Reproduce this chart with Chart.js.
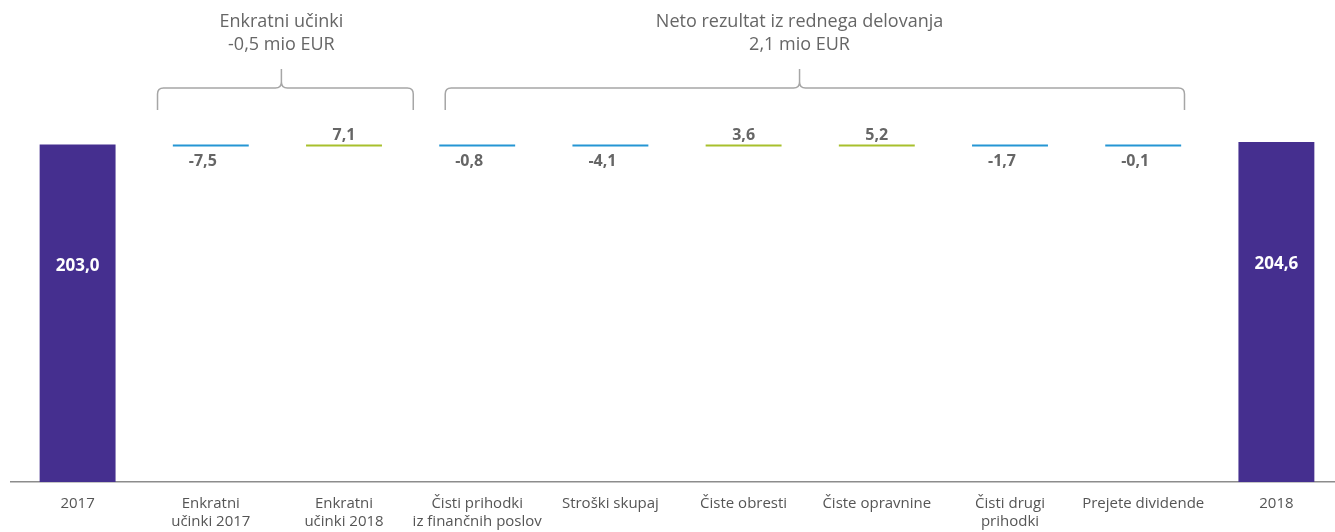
<!DOCTYPE html>
<html>
<head>
<meta charset="utf-8">
<script src="https://cdn.jsdelivr.net/npm/chart.js@4/dist/chart.umd.min.js"></script>
<style>
  html, body { margin: 0; padding: 0; background: #fff; overflow: hidden; }
  #wrap { position: absolute; left: 0; top: 0; width: 1343px; height: 532px; }
</style>
</head>
<body>
<div id="wrap"><canvas id="bridgeChart"></canvas></div>
<script>
// podatki
const categories = [
  '2017',
  ['Enkratni', 'učinki 2017'],
  ['Enkratni', 'učinki 2018'],
  ['Čisti prihodki', 'iz finančnih poslov'],
  'Stroški skupaj',
  'Čiste obresti',
  'Čiste opravnine',
  ['Čisti drugi', 'prihodki'],
  'Prejete dividende',
  '2018'
];
const startValue = 203.0;
const endValue = 204.6;
const changes = [-7.5, 7.1, -0.8, -4.1, 3.6, 5.2, -1.7, -0.1];
const groupTitles = [
  ['Enkratni učinki', '-0,5 mio EUR'],
  ['Neto rezultat iz rednega delovanja', '2,1 mio EUR']
];

const PURPLE = '#452f8f';
const BLUE = '#2596d4';
const GREEN = '#a8c02c';
const GREY_TEXT = '#666666';
const MARK = 1.2; // debelina črtic (v enotah osi)

const fmt = v => v.toFixed(1).replace('.', ',');

// plavajoči stolpci: skupni zneski od 0, spremembe kot tanke črtice
const barData = [[0, startValue]];
const barColors = [PURPLE];
changes.forEach(c => {
  barData.push([startValue - MARK, startValue]);
  barColors.push(c < 0 ? BLUE : GREEN);
});
barData.push([0, endValue]);
barColors.push(PURPLE);
const barLabels = [startValue, ...changes, endValue];

// oklepaji nad skupinami (v indeksih kategorij)
const brackets = [
  { from: 0.60, to: 2.52, mid: 1.53, title: groupTitles[0] },
  { from: 2.76, to: 8.31, mid: 5.42, title: groupTitles[1] }
];

const labelPlugin = {
  id: 'barLabels',
  afterDatasetsDraw(chart) {
    const ctx = chart.ctx;
    const meta = chart.getDatasetMeta(0);
    ctx.save();
    ctx.textAlign = 'center';
    ctx.textBaseline = 'middle';
    meta.data.forEach((bar, i) => {
      const v = barLabels[i];
      const last = meta.data.length - 1;
      if (i === 0 || i === last) {
        const h = bar.base - bar.y;
        ctx.fillStyle = '#ffffff';
        ctx.font = 'bold 17px "Open Sans", sans-serif';
        ctx.fillText(fmt(v), bar.x, bar.y + h * 0.36);
      } else {
        ctx.fillStyle = GREY_TEXT;
        ctx.font = 'bold 16px "Open Sans", sans-serif';
        if (v < 0) {
          ctx.fillText(fmt(v), bar.x - 8, bar.base + 15);
        } else {
          ctx.fillText(fmt(v), bar.x, bar.y - 9);
        }
      }
    });
    ctx.restore();
  }
};

const bracketPlugin = {
  id: 'brackets',
  afterDraw(chart) {
    const ctx = chart.ctx;
    const x = chart.scales.x;
    const yLine = 88, yEnd = 110, yTop = 69, r = 6;
    ctx.save();
    ctx.strokeStyle = '#a6a6a6';
    ctx.lineWidth = 1.5;
    brackets.forEach(b => {
      const x1 = x.getPixelForValue(b.from);
      const x2 = x.getPixelForValue(b.to);
      const xm = x.getPixelForValue(b.mid);
      ctx.beginPath();
      ctx.moveTo(x1, yEnd);
      ctx.lineTo(x1, yLine + r);
      ctx.quadraticCurveTo(x1, yLine, x1 + r, yLine);
      ctx.lineTo(xm - r, yLine);
      ctx.quadraticCurveTo(xm, yLine, xm, yLine - r);
      ctx.lineTo(xm, yTop);
      ctx.moveTo(xm, yLine - r);
      ctx.quadraticCurveTo(xm, yLine, xm + r, yLine);
      ctx.lineTo(x2 - r, yLine);
      ctx.quadraticCurveTo(x2, yLine, x2, yLine + r);
      ctx.lineTo(x2, yEnd);
      ctx.stroke();

      ctx.fillStyle = GREY_TEXT;
      ctx.font = '18px "Open Sans", sans-serif';
      ctx.textAlign = 'center';
      ctx.textBaseline = 'middle';
      ctx.fillText(b.title[0], xm, 22);
      ctx.fillText(b.title[1], xm, 45);
    });
    ctx.restore();
  }
};

const chart = new Chart(document.getElementById('bridgeChart'), {
  type: 'bar',
  data: {
    labels: categories,
    datasets: [{
      data: barData,
      backgroundColor: barColors,
      borderWidth: 0,
      barPercentage: 0.57,
      categoryPercentage: 1.0
    }]
  },
  options: {
    responsive: true,
    maintainAspectRatio: false,
    animation: false,
    layout: { padding: { left: 11, right: 0, top: 0, bottom: -12 } },
    plugins: {
      legend: { display: false },
      tooltip: { enabled: false }
    },
    scales: {
      x: {
        grid: { display: false, drawTicks: false },
        border: { display: true, color: '#8c8c8c', width: 1.5 },
        ticks: {
          color: '#555555',
          padding: 13,
          maxRotation: 0,
          autoSkip: false,
          font: { family: '"Open Sans", sans-serif', size: 15, lineHeight: 1.2 }
        }
      },
      y: {
        display: false,
        min: 0,
        max: 290
      }
    }
  },
  plugins: [labelPlugin, bracketPlugin]
});
</script>
</body>
</html>
